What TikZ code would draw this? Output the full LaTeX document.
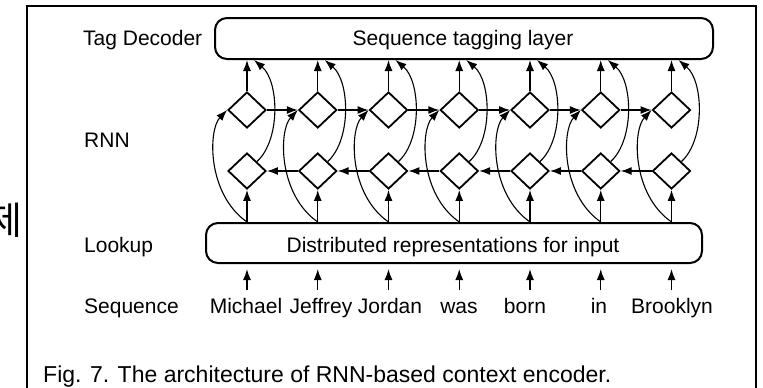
\documentclass[tikz,border=0pt]{standalone}
\usepackage{fontspec}
\setmainfont{Liberation Sans}
\newfontfamily\krfont{Noto Sans CJK KR}
\usetikzlibrary{shapes.geometric,arrows.meta,calc}
\begin{document}
\begin{tikzpicture}[x=1pt,y=-1pt,
  txt/.style={font=\fontsize{21}{24}\selectfont, inner sep=0pt, text=black},
  captxt/.style={font=\fontsize{23}{26}\selectfont, inner sep=0pt, text=black},
  cell/.style={draw, shape=diamond, minimum width=38pt, minimum height=36pt, inner sep=0pt, line width=1.8pt},
  layerbox/.style={draw, rounded corners=12pt, line width=2pt, inner sep=0pt},
  arr/.style={line width=1.3pt, -{Latex[length=11pt,width=8pt]}},
  carr/.style={line width=1.1pt, -{Latex[length=11pt,width=8pt]}}
]
\useasboundingbox (0,0) rectangle (763,388);
% frame
\draw[line width=2.5pt] (27,390) -- (27,6) -- (756,6) -- (756,390);
\node[font=\krfont\fontsize{38}{40}\selectfont, inner sep=0pt, anchor=base west] (kr) at (-13,234) {제};
% row labels
\node[txt, anchor=base west] (ltag) at (83,45) {Tag Decoder};
\node[txt, anchor=base west] (lrnn) at (84,147) {RNN};
\node[txt, anchor=base west] (llook) at (84,252) {Lookup};
\node[txt, anchor=base west] (lseq) at (84,313) {Sequence};
% boxes
\node[layerbox, minimum width=498pt, minimum height=41pt] (tag) at (464,38.5) {};
\node[txt, anchor=base] (tagt) at (463,45) {Sequence tagging layer};
\node[layerbox, minimum width=496pt, minimum height=40pt] (look) at (454,243) {};
\node[txt, anchor=base] (lookt) at (453,252) {Distributed representations for input};
% diamonds
\foreach \i in {0,...,6}{
  \pgfmathsetmacro{\cx}{247+70.75*\i}
  \node[cell] (u\i) at (\cx,110) {};
  \node[cell] (l\i) at (\cx,171) {};
}
% vertical arrows and curves
\foreach \i in {0,...,6}{
  \draw[arr] (u\i.north) -- (u\i.north |- tag.south);
  \draw[arr] (u\i.south |- look.north) -- (l\i.south);
  \draw[carr] (l\i.north east) .. controls ($(l\i.north east)+(24,-22)$) and ($(u\i.north)+(32,-10)$) .. ($(u\i.north |- tag.south)+(7,0)$);
  \draw[carr] (u\i.south |- look.north) .. controls ($(u\i.south |- look.north)+(-40,-28)$) and ($(u\i.west)+(-19,20)$) .. (u\i.west);
}
% horizontal arrows
\foreach \i/\j in {0/1,1/2,2/3,3/4,4/5,5/6}{
  \draw[arr] (u\i.east) -- (u\j.west);
  \draw[arr] (l\j.west) -- (l\i.east);
}
% words
\foreach \i/\x/\w in {0/246/Michael,1/321/Jeffrey,2/390/Jordan,3/459/was,4/525/born,5/599/in,6/672/Brooklyn}{
  \pgfmathsetmacro{\cx}{247+70.75*\i}
  \node[txt, anchor=base] (w\i) at (\x,313) {\w};
  \coordinate (sb\i) at (\cx,290);
  \draw[arr, shorten >=5pt] (sb\i) -- (sb\i |- look.south);
}
% caption
\node[captxt, anchor=base west] (cap) at (43,382) {Fig. 7. The architecture of RNN-based context encoder.};
\end{tikzpicture}
\end{document}
